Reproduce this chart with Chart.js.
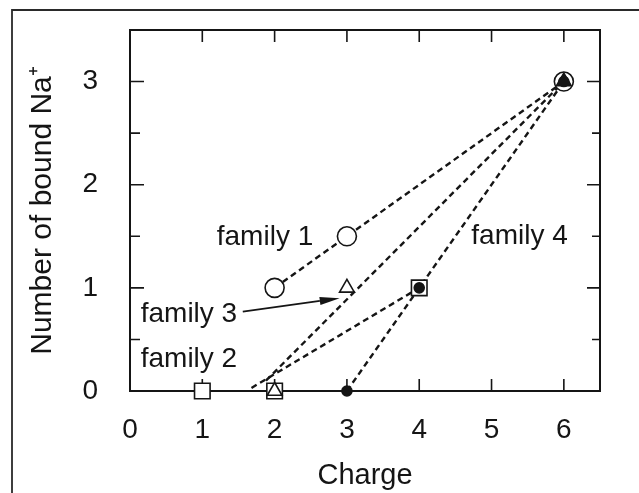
<!DOCTYPE html>
<html>
<head>
<meta charset="utf-8">
<title>Number of bound Na+ vs charge</title>
<script src="https://cdn.jsdelivr.net/npm/chart.js@4/dist/chart.umd.min.js"></script>
<style>
  html, body { margin: 0; padding: 0; background: #fff; }
  #chart { display: block; }
</style>
</head>
<body>
<canvas id="chart" width="639" height="493"></canvas>
<script>
// Number of bound Na+ against charge, four families of peptides

const X_TICKS = [0, 1, 2, 3, 4, 5, 6];
const Y_TICKS = [0, 1, 2, 3];
const Y_MINOR = [0.5, 1.5, 2.5];

// measured points
const FAMILY1_X = [2, 3, 6];
const FAMILY1_Y = [1, 1.5, 3];
const FAMILY2_X = [1, 2, 4];
const FAMILY2_Y = [0, 0, 1];
const FAMILY3_X = [2, 3, 6];
const FAMILY3_Y = [0, 1, 3];
const FAMILY4_X = [3, 4, 6];
const FAMILY4_Y = [0, 1, 3];

// dashed guide lines (end points)
const LINE1_X = [2, 6];
const LINE1_Y = [1, 3];
const LINE2_X = [1.68, 4];
const LINE2_Y = [0.03, 1];
const LINE3_X = [1.88, 6];
const LINE3_Y = [0.1, 3];
const LINE4_X = [3, 6];
const LINE4_Y = [0, 3];

// text labels, anchored in data units (left, baseline)
const LABELS = ['family 1', 'family 2', 'family 3', 'family 4'];
const LABEL_X = [1.2, 0.148, 0.148, 4.72];
const LABEL_Y = [1.42, 0.236, 0.673, 1.43];
const ARROW_FROM = [1.56, 0.77];
const ARROW_TO = [2.9, 0.9];

const INK = '#151515';
const FONT = 'Liberation Sans, Arial, Helvetica, sans-serif';

const pts = (xs, ys) => xs.map((x, i) => ({ x, y: ys[i] }));

const dashed = (xs, ys) => ({
    data: pts(xs, ys),
    showLine: true,
    borderColor: INK,
    borderWidth: 2.4,
    borderDash: [6, 4],
    pointRadius: 0,
    tension: 0,
    clip: false,
    order: 10
});

const markers = (xs, ys, style, radius, fill, order) => ({
    data: pts(xs, ys),
    showLine: false,
    pointStyle: style,
    pointRadius: radius,
    pointHoverRadius: radius,
    pointBorderWidth: 1.6,
    pointBorderColor: INK,
    pointBackgroundColor: fill,
    clip: false,
    order
});

// frame, outer border and inward ticks
const framePlugin = {
    id: 'frame',
    beforeDatasetsDraw(chart) {
        const { ctx, chartArea: a, scales: { x, y } } = chart;
        ctx.save();
        ctx.strokeStyle = '#2a2a2a';
        ctx.lineWidth = 1.8;
        ctx.beginPath();
        ctx.moveTo(12, chart.height);
        ctx.lineTo(12, 10);
        ctx.lineTo(chart.width, 10);
        ctx.stroke();

        ctx.strokeStyle = INK;
        ctx.lineWidth = 2;
        ctx.strokeRect(a.left, a.top, a.right - a.left, a.bottom - a.top);

        ctx.lineWidth = 1.6;
        ctx.beginPath();
        X_TICKS.filter(v => v > 0).forEach(v => {
            const px = x.getPixelForValue(v);
            ctx.moveTo(px, a.bottom); ctx.lineTo(px, a.bottom - 12);
            ctx.moveTo(px, a.top); ctx.lineTo(px, a.top + 12);
        });
        Y_TICKS.filter(v => v > 0).forEach(v => {
            const py = y.getPixelForValue(v);
            ctx.moveTo(a.left, py); ctx.lineTo(a.left + 14, py);
            ctx.moveTo(a.right, py); ctx.lineTo(a.right - 13, py);
        });
        Y_MINOR.forEach(v => {
            const py = y.getPixelForValue(v);
            ctx.moveTo(a.left, py); ctx.lineTo(a.left + 10, py);
            ctx.moveTo(a.right, py); ctx.lineTo(a.right - 8, py);
        });
        ctx.stroke();
        ctx.restore();
    }
};

// family labels and the arrow for family 3
const labelPlugin = {
    id: 'labels',
    afterDatasetsDraw(chart) {
        const { ctx, scales: { x, y } } = chart;
        ctx.save();
        ctx.fillStyle = INK;
        ctx.font = '28px ' + FONT;
        ctx.textAlign = 'left';
        ctx.textBaseline = 'alphabetic';
        LABELS.forEach((t, i) => {
            ctx.fillText(t, x.getPixelForValue(LABEL_X[i]), y.getPixelForValue(LABEL_Y[i]));
        });

        const x0 = x.getPixelForValue(ARROW_FROM[0]), y0 = y.getPixelForValue(ARROW_FROM[1]);
        const x1 = x.getPixelForValue(ARROW_TO[0]), y1 = y.getPixelForValue(ARROW_TO[1]);
        const ang = Math.atan2(y1 - y0, x1 - x0);
        const head = 20, half = 4;
        const bx = x1 - head * Math.cos(ang), by = y1 - head * Math.sin(ang);
        ctx.strokeStyle = INK;
        ctx.lineWidth = 1.8;
        ctx.beginPath();
        ctx.moveTo(x0, y0);
        ctx.lineTo(bx, by);
        ctx.stroke();
        ctx.beginPath();
        ctx.moveTo(x1, y1);
        ctx.lineTo(bx + half * Math.sin(ang), by - half * Math.cos(ang));
        ctx.lineTo(bx - half * Math.sin(ang), by + half * Math.cos(ang));
        ctx.closePath();
        ctx.fill();
        ctx.restore();
    }
};

new Chart(document.getElementById('chart'), {
    type: 'scatter',
    data: {
        datasets: [
            markers(FAMILY4_X, FAMILY4_Y, 'circle', 5, INK, 0),
            markers(FAMILY3_X, FAMILY3_Y, 'triangle', 8.5, ['#fff', '#fff', INK], 1),
            markers(FAMILY2_X, FAMILY2_Y, 'rect', 11, '#fff', 2),
            markers(FAMILY1_X, FAMILY1_Y, 'circle', 9.5, '#fff', 3),
            dashed(LINE1_X, LINE1_Y),
            dashed(LINE2_X, LINE2_Y),
            dashed(LINE3_X, LINE3_Y),
            dashed(LINE4_X, LINE4_Y)
        ]
    },
    options: {
        responsive: false,
        animation: false,
        devicePixelRatio: 1,
        layout: { padding: { top: 30, right: 39, bottom: 0, left: 0 } },
        plugins: {
            legend: { display: false },
            tooltip: { enabled: false }
        },
        scales: {
            x: {
                type: 'linear',
                min: 0,
                max: 6.5,
                afterBuildTicks: s => { s.ticks = X_TICKS.map(v => ({ value: v })); },
                afterFit: s => { s.height = 102; s.paddingLeft = 0; s.paddingRight = 0; },
                grid: { display: false, drawTicks: false },
                border: { display: false },
                ticks: {
                    color: INK,
                    padding: 22,
                    maxRotation: 0,
                    font: { family: FONT, size: 28 }
                },
                title: {
                    display: true,
                    text: 'Charge',
                    color: INK,
                    padding: { top: 0, bottom: 0 },
                    font: { family: FONT, size: 29 }
                }
            },
            y: {
                type: 'linear',
                min: 0,
                max: 3.5,
                afterBuildTicks: s => { s.ticks = Y_TICKS.map(v => ({ value: v })); },
                afterFit: s => { s.width = 130; s.paddingTop = 0; s.paddingBottom = 0; },
                grid: { display: false, drawTicks: false },
                border: { display: false },
                ticks: {
                    color: INK,
                    padding: 32,
                    font: { family: FONT, size: 28 }
                },
                title: {
                    display: true,
                    text: 'Number of bound Na\u207A',
                    color: INK,
                    padding: { top: 25, bottom: 0 },
                    font: { family: FONT, size: 30 }
                }
            }
        }
    },
    plugins: [framePlugin, labelPlugin]
});
</script>
</body>
</html>
